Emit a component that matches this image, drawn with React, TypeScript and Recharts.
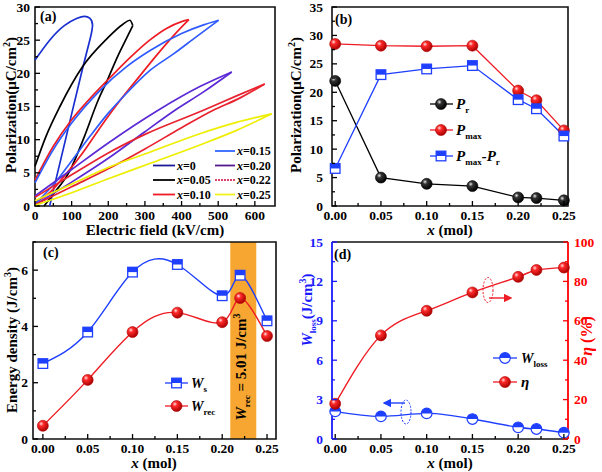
import React from 'react'
import { LineChart, Line, XAxis, YAxis, ReferenceArea, ReferenceLine } from 'recharts'

// ---- (a) P-E loops, points are [E (kV/cm), P (µC/cm²)]
const loopX000 = [[0, 22], [40, 25], [80, 27.2], [115, 28.3], [135, 28.6], [150, 28.3], [157, 27.3], [150, 25.1], [131, 21], [104, 14.8], [72, 7.4], [40, 0]]
const loopX005Rise = [[25, 0], [50, 1.8], [95, 5.3], [135, 10.5], [172, 15.9], [196, 18.8], [226, 22.6], [250, 25.3], [267, 27.2]]
const loopX005Fall = [[0, 6], [30, 10.5], [68, 15], [131, 21.1], [196, 25.2], [240, 27.4], [259, 28], [267, 27.2]]
const loopX010Rise = [[0, 0.5], [40, 2], [80, 4.5], [130, 8], [180, 12], [232, 15.9], [280, 19.2], [330, 22.6], [380, 25.8], [420, 28.1]]
const loopX010Fall = [[0, 3.9], [50, 9], [100, 13], [145, 15.9], [204, 19.3], [260, 22.4], [313, 25], [360, 26.8], [400, 27.8], [420, 28.1]]
const loopX015Rise = [[0, 0.3], [50, 3.2], [100, 6.8], [150, 10.5], [200, 14], [250, 17], [313, 20.4], [380, 23], [440, 25.5], [501, 28]]
const loopX015Fall = [[0, 3.5], [50, 8.5], [100, 12.5], [177, 17.4], [250, 21], [313, 23.4], [400, 26], [460, 27.3], [501, 28]]
const loopX020Rise = [[0, 0.2], [100, 3.6], [200, 7.2], [300, 11.2], [381, 14.4], [460, 17.2], [537, 20.2]]
const loopX020Fall = [[0, 1.5], [100, 5.5], [200, 9.5], [335, 14.4], [450, 18], [537, 20.2]]
const loopX022Rise = [[0, 0.2], [100, 2.9], [200, 5.6], [300, 8.6], [400, 11.8], [485, 14.4], [560, 16.3], [627, 18.4]]
const loopX022Fall = [[0, 1.3], [100, 4.7], [200, 8], [300, 10.8], [458, 14.4], [550, 16.6], [627, 18.4]]
const loopX025Rise = [[0, 0.1], [100, 2], [200, 4.1], [313, 6.4], [450, 9.2], [550, 11.4], [646, 13.9]]
const loopX025Fall = [[0, 0.8], [100, 3.3], [200, 5.8], [313, 8.1], [450, 10.9], [550, 12.6], [646, 13.9]]

const fieldTicks = [0, 50, 100, 150, 200, 250, 300, 350, 400, 450, 500, 550, 600]
const fieldMajors = [0, 100, 200, 300, 400, 500, 600]
const polTicksA = [0, 2.5, 5, 7.5, 10, 12.5, 15, 17.5, 20, 22.5, 25, 27.5, 30]
const polMajorsA = [0, 5, 10, 15, 20, 25, 30]

// ---- (b)-(d) composition series
const composition = [0, 0.05, 0.1, 0.15, 0.2, 0.22, 0.25]
const pr = [22.0, 5.0, 3.9, 3.5, 1.5, 1.4, 1.0]
const pmax = [28.5, 28.2, 28.1, 28.2, 20.3, 18.6, 13.3]
const pmaxMinusPr = [6.6, 23.1, 24.1, 24.7, 18.7, 17.1, 12.3]
const ws = [2.68, 3.8, 5.93, 6.2, 5.09, 5.82, 4.2]
const wrec = [0.47, 2.1, 3.8, 4.49, 4.15, 5.01, 3.66]
const wloss = [2.1, 1.72, 1.95, 1.52, 0.89, 0.76, 0.48]
const eta = [17.9, 52.6, 65.1, 74.4, 82.3, 85.8, 87.0]

const molTicks = [0, 0.025, 0.05, 0.075, 0.1, 0.125, 0.15, 0.175, 0.2, 0.225, 0.25]
const molMajors = [0, 0.05, 0.1, 0.15, 0.2, 0.25]
const polTicksB = [0, 2.5, 5, 7.5, 10, 12.5, 15, 17.5, 20, 22.5, 25, 27.5, 30, 32.5, 35]
const polMajorsB = [0, 5, 10, 15, 20, 25, 30, 35]
const energyTicks = [0, 1, 2, 3, 4, 5, 6, 7]
const energyMajors = [0, 2, 4, 6]
const lossTicks = [0, 1.5, 3, 4.5, 6, 7.5, 9, 10.5, 12, 13.5, 15]
const lossMajors = [0, 3, 6, 9, 12, 15]
const etaTicks = [0, 10, 20, 30, 40, 50, 60, 70, 80, 90, 100]
const etaMajors = [0, 20, 40, 60, 80, 100]

const SERIF = '"Liberation Serif", "Times New Roman", serif'
const BLUE = '#1f3fff'
const RED = '#ee1c24'

const toPts = (a: number[][]) => a.map(([e, p]) => ({ e, p }))

const loops = [
  { id: 'x000', color: '#1a2fd0', parts: [loopX000], curve: 'natural' },
  { id: 'x005', color: '#000000', parts: [loopX005Rise, loopX005Fall], curve: 'monotone' },
  { id: 'x010', color: RED, parts: [loopX010Rise, loopX010Fall], curve: 'monotone' },
  { id: 'x015', color: '#2f5bff', parts: [loopX015Rise, loopX015Fall], curve: 'monotone' },
  { id: 'x020', color: '#5b2ad6', parts: [loopX020Rise, loopX020Fall], curve: 'monotone' },
  { id: 'x022', color: '#e8232f', parts: [loopX022Rise, loopX022Fall], curve: 'monotone' },
  { id: 'x025', color: '#eeee00', parts: [loopX025Rise, loopX025Fall], curve: 'monotone' },
]

const rows = composition.map((x, i) => ({
  x,
  pr: pr[i],
  pmax: pmax[i],
  pdiff: pmaxMinusPr[i],
  ws: ws[i],
  wrec: wrec[i],
  wloss: wloss[i],
  eta: eta[i],
}))

// ticks point inward, labels only on majors
function tickMaker(side: 'bottom' | 'left' | 'right', majors: number[], fmt: (v: number) => string, gap: number, color = '#000') {
  return (props: any) => {
    const { x, y, payload } = props
    const v = payload.value
    const major = majors.some((m) => Math.abs(m - v) < 1e-6)
    const len = major ? 5 : 3
    const font = { fontFamily: SERIF, fontWeight: 'bold' as const, fontSize: 13.5, fill: color }
    if (side === 'bottom') {
      return (
        <g>
          <line x1={x} x2={x} y1={y} y2={y - len} stroke={color} strokeWidth={1.3} />
          {major && <text x={x} y={y + gap} textAnchor="middle" {...font}>{fmt(v)}</text>}
        </g>
      )
    }
    const dir = side === 'left' ? 1 : -1
    return (
      <g>
        <line x1={x} x2={x + dir * len} y1={y} y2={y} stroke={color} strokeWidth={1.3} />
        {major && (
          <text x={x - dir * gap} y={y + 4.5} textAnchor={side === 'left' ? 'end' : 'start'} {...font}>
            {fmt(v)}
          </text>
        )}
      </g>
    )
  }
}

const fmt2 = (v: number) => v.toFixed(2)
const fmt0 = (v: number) => String(v)

function Ball({ cx, cy, kind }: { cx: number; cy: number; kind: 'red' | 'black' }) {
  return <circle cx={cx} cy={cy} r={5.5} fill={`url(#ball-${kind})`} stroke={kind === 'red' ? '#b00000' : '#000'} strokeWidth={0.6} />
}

function HalfSquare({ cx, cy, color }: { cx: number; cy: number; color: string }) {
  return (
    <g>
      <rect x={cx - 4.8} y={cy - 4.8} width={9.6} height={9.6} fill="#fff" stroke={color} strokeWidth={1.3} />
      <rect x={cx - 4.8} y={cy - 4.8} width={9.6} height={4.8} fill={color} />
    </g>
  )
}

function HalfCircle({ cx, cy, color }: { cx: number; cy: number; color: string }) {
  const r = 5.3
  return (
    <g>
      <circle cx={cx} cy={cy} r={r} fill="#fff" stroke={color} strokeWidth={1.2} />
      <path d={`M${cx - r},${cy} A${r},${r} 0 0 1 ${cx + r},${cy} Z`} fill={color} />
    </g>
  )
}

const redDot = (p: any) => <Ball key={`r${p.index}`} cx={p.cx} cy={p.cy} kind="red" />
const blackDot = (p: any) => <Ball key={`k${p.index}`} cx={p.cx} cy={p.cy} kind="black" />
const squareDot = (p: any) => <HalfSquare key={`s${p.index}`} cx={p.cx} cy={p.cy} color={BLUE} />
const halfDot = (p: any) => <HalfCircle key={`h${p.index}`} cx={p.cx} cy={p.cy} color={BLUE} />

const MOL_DOMAIN: [number, number] = [-0.0035, 0.2545]

function PanelA() {
  return (
    <LineChart width={285} height={240} margin={{ top: 7, right: 10, left: 0, bottom: 0 }}>
      <XAxis type="number" dataKey="e" domain={[0, 655]} ticks={fieldTicks} interval={0} height={34}
        axisLine={false} tickLine={false} tickSize={0} tickMargin={0} tick={tickMaker('bottom', fieldMajors, fmt0, 14)} />
      <YAxis type="number" domain={[0, 30]} ticks={polTicksA} interval={0} width={35}
        axisLine={false} tickLine={false} tickSize={0} tickMargin={0} tick={tickMaker('left', polMajorsA, fmt0, 5)} />
      <ReferenceArea x1={0} x2={655} y1={0} y2={30} fill="none" stroke="#111" strokeWidth={1.6} />
      {loops.map((l) =>
        l.parts.map((part, j) => (
          <Line key={`${l.id}-${j}`} data={toPts(part)} dataKey="p" type={l.curve as any} stroke={l.color}
            strokeWidth={1.7} dot={false} activeDot={false} isAnimationActive={false} />
        ))
      )}
    </LineChart>
  )
}

function PanelB() {
  return (
    <LineChart width={302} height={240} data={rows} margin={{ top: 7, right: 34, left: 0, bottom: 0 }}>
      <XAxis type="number" dataKey="x" domain={MOL_DOMAIN} ticks={molTicks} interval={0} height={34}
        axisLine={false} tickLine={false} tickSize={0} tickMargin={0} tick={tickMaker('bottom', molMajors, fmt2, 14)} />
      <YAxis type="number" domain={[0, 35]} ticks={polTicksB} interval={0} width={32}
        axisLine={false} tickLine={false} tickSize={0} tickMargin={0} tick={tickMaker('left', polMajorsB, fmt0, 9)} />
      <ReferenceArea x1={MOL_DOMAIN[0]} x2={MOL_DOMAIN[1]} y1={0} y2={35} fill="none" stroke="#111" strokeWidth={1.6} />
      <Line dataKey="pr" type="linear" stroke="#000" strokeWidth={1.3} dot={blackDot} activeDot={false} isAnimationActive={false} />
      <Line dataKey="pmax" type="linear" stroke={RED} strokeWidth={1.3} dot={redDot} activeDot={false} isAnimationActive={false} />
      <Line dataKey="pdiff" type="linear" stroke={BLUE} strokeWidth={1.3} dot={squareDot} activeDot={false} isAnimationActive={false} />
    </LineChart>
  )
}

function PanelC() {
  return (
    <LineChart width={290} height={242} data={rows} margin={{ top: 12, right: 14, left: 0, bottom: 0 }}>
      <XAxis type="number" dataKey="x" domain={[-0.011, 0.26]} ticks={molTicks} interval={0} height={33}
        axisLine={false} tickLine={false} tickSize={0} tickMargin={0} tick={tickMaker('bottom', molMajors, fmt2, 14)} />
      <YAxis type="number" domain={[0, 7]} ticks={energyTicks} interval={0} width={33}
        axisLine={false} tickLine={false} tickSize={0} tickMargin={0} tick={tickMaker('left', energyMajors, fmt0, 5)} />
      <ReferenceArea x1={0.209} x2={0.238} y1={0} y2={7} fill="#f6a631" fillOpacity={1} stroke="none" />
      <ReferenceArea x1={-0.011} x2={0.26} y1={0} y2={7} fill="none" stroke="#111" strokeWidth={1.6} />
      <Line dataKey="ws" type="natural" stroke={BLUE} strokeWidth={1.4} dot={squareDot} activeDot={false} isAnimationActive={false} />
      <Line dataKey="wrec" type="natural" stroke={RED} strokeWidth={1.4} dot={redDot} activeDot={false} isAnimationActive={false} />
    </LineChart>
  )
}

function PanelD() {
  return (
    <LineChart width={302} height={242} data={rows} margin={{ top: 12, right: 0, left: 0, bottom: 0 }}>
      <XAxis type="number" dataKey="x" domain={MOL_DOMAIN} ticks={molTicks} interval={0} height={33}
        axisLine={{ stroke: '#111', strokeWidth: 1.6 }} tickLine={false} tickSize={0} tickMargin={0}
        tick={tickMaker('bottom', molMajors, fmt2, 14)} />
      <YAxis yAxisId="l" type="number" domain={[0, 15]} ticks={lossTicks} interval={0} width={32}
        axisLine={{ stroke: '#1a1aff', strokeWidth: 1.8 }} tickLine={false} tickSize={0} tickMargin={0}
        tick={tickMaker('left', lossMajors, fmt0, 9, '#1a1aff')} />
      <YAxis yAxisId="r" orientation="right" type="number" domain={[0, 100]} ticks={etaTicks} interval={0} width={34}
        axisLine={{ stroke: '#ff0000', strokeWidth: 1.8 }} tickLine={false} tickSize={0} tickMargin={0}
        tick={tickMaker('right', etaMajors, fmt0, 6, '#ff0000')} />
      <ReferenceLine yAxisId="l" y={15} stroke="#111" strokeWidth={1.6} />
      <Line yAxisId="l" dataKey="wloss" type="natural" stroke={BLUE} strokeWidth={1.4} dot={halfDot} activeDot={false} isAnimationActive={false} />
      <Line yAxisId="r" dataKey="eta" type="natural" stroke={RED} strokeWidth={1.4} dot={redDot} activeDot={false} isAnimationActive={false} />
    </LineChart>
  )
}

const txt = { fontFamily: SERIF, fontWeight: 'bold' as const }

function Sub({ children }: { children: React.ReactNode }) {
  return <tspan fontSize={9} fontStyle="normal" dy={4}>{children}</tspan>
}

function Overlay() {
  const legA1 = [
    { y: 165.5, label: '=0', color: '#1a1a99', dash: undefined },
    { y: 180, label: '=0.05', color: '#000', dash: undefined },
    { y: 194.5, label: '=0.10', color: '#ee1c24', dash: undefined },
  ]
  const legA2 = [
    { y: 151, label: '=0.15', color: '#3366ff', dash: undefined },
    { y: 165.5, label: '=0.20', color: '#551a8b', dash: undefined },
    { y: 180, label: '=0.22', color: '#d9436e', dash: '2 1' },
    { y: 194.5, label: '=0.25', color: '#f2f21a', dash: undefined },
  ]
  return (
    <svg width={602} height={472} style={{ position: 'absolute', left: 0, top: 0, pointerEvents: 'none' }}>
      <defs>
        <radialGradient id="ball-red" cx="0.35" cy="0.32" r="0.7">
          <stop offset="0" stopColor="#ffe0e0" />
          <stop offset="0.3" stopColor="#ff2a2a" />
          <stop offset="1" stopColor="#a80000" />
        </radialGradient>
        <radialGradient id="ball-black" cx="0.35" cy="0.32" r="0.7">
          <stop offset="0" stopColor="#e8e8e8" />
          <stop offset="0.3" stopColor="#333" />
          <stop offset="1" stopColor="#000" />
        </radialGradient>
        <marker id="arrR" markerWidth="6" markerHeight="6" refX="5" refY="3" orient="auto">
          <path d="M0,0 L6,3 L0,6 Z" fill="#ee1c24" />
        </marker>
        <marker id="arrB" markerWidth="6" markerHeight="6" refX="5" refY="3" orient="auto">
          <path d="M0,0 L6,3 L0,6 Z" fill={BLUE} />
        </marker>
      </defs>

      {/* panel letters */}
      <text x={40} y={21} fontSize={14} {...txt}>(a)</text>
      <text x={335} y={24} fontSize={14} {...txt}>(b)</text>
      <text x={43} y={257} fontSize={14} {...txt}>(c)</text>
      <text x={334} y={259} fontSize={14} {...txt}>(d)</text>

      {/* (a) titles */}
      <text x={155} y={235} fontSize={15} textAnchor="middle" {...txt}>Electric field (kV/cm)</text>
      <text transform="translate(16,105) rotate(-90)" fontSize={15} textAnchor="middle" {...txt}>
        Polarization(μC/cm<tspan dy={-6} fontSize={10}>2</tspan><tspan dy={6}>)</tspan>
      </text>
      {legA1.map((r) => (
        <g key={r.label}>
          <line x1={153} x2={175} y1={r.y} y2={r.y} stroke={r.color} strokeWidth={1.8} strokeDasharray={r.dash} />
          <text x={177} y={r.y + 4} fontSize={12} {...txt}><tspan fontStyle="italic">x</tspan>{r.label}</text>
        </g>
      ))}
      {legA2.map((r) => (
        <g key={r.label}>
          <line x1={215} x2={235} y1={r.y} y2={r.y} stroke={r.color} strokeWidth={1.8} strokeDasharray={r.dash} />
          <text x={237} y={r.y + 4} fontSize={12} {...txt}><tspan fontStyle="italic">x</tspan>{r.label}</text>
        </g>
      ))}

      {/* (b) titles + legend */}
      <text x={450} y={235} fontSize={15} textAnchor="middle" {...txt}><tspan fontStyle="italic">x</tspan> (mol)</text>
      <text transform="translate(301,105) rotate(-90)" fontSize={15} textAnchor="middle" {...txt}>
        Polarization(μC/cm<tspan dy={-6} fontSize={10}>2</tspan><tspan dy={6}>)</tspan>
      </text>
      <line x1={430} x2={453} y1={104} y2={104} stroke="#000" strokeWidth={1.3} />
      <Ball cx={441} cy={104} kind="black" />
      <text x={456} y={109} fontSize={15} fontStyle="italic" {...txt}>P<Sub>r</Sub></text>
      <line x1={430} x2={453} y1={130} y2={130} stroke={RED} strokeWidth={1.3} />
      <Ball cx={441} cy={130} kind="red" />
      <text x={456} y={135} fontSize={15} fontStyle="italic" {...txt}>P<Sub>max</Sub></text>
      <line x1={430} x2={453} y1={156} y2={156} stroke={BLUE} strokeWidth={1.3} />
      <HalfSquare cx={441} cy={156} color={BLUE} />
      <text x={456} y={161} fontSize={15} fontStyle="italic" {...txt}>
        P<Sub>max</Sub><tspan dy={-4}>-P</tspan><Sub>r</Sub>
      </text>

      {/* (c) titles + legend + band text */}
      <text x={154} y={468} fontSize={15} textAnchor="middle" {...txt}><tspan fontStyle="italic">x</tspan> (mol)</text>
      <text transform="translate(17,340) rotate(-90)" fontSize={15} textAnchor="middle" {...txt}>
        Energy density (J/cm<tspan dy={-6} fontSize={10}>3</tspan><tspan dy={6}>)</tspan>
      </text>
      <line x1={165} x2={188} y1={383} y2={383} stroke={BLUE} strokeWidth={1.3} />
      <HalfSquare cx={176.5} cy={383} color={BLUE} />
      <text x={191} y={388} fontSize={14} fontStyle="italic" {...txt}>W<Sub>s</Sub></text>
      <line x1={165} x2={188} y1={406} y2={406} stroke={RED} strokeWidth={1.3} />
      <Ball cx={176.5} cy={406} kind="red" />
      <text x={191} y={411} fontSize={14} fontStyle="italic" {...txt}>W<Sub>rec</Sub></text>
      <text transform="translate(246,367) rotate(-90)" fontSize={15} textAnchor="middle" {...txt}>
        <tspan fontStyle="italic">W</tspan><tspan fontSize={9} dy={4}>rec</tspan><tspan dy={-4}> = 5.01 J/cm</tspan>
        <tspan dy={-6} fontSize={10}>3</tspan>
      </text>

      {/* (d) titles + legend + arrows */}
      <text x={450} y={468} fontSize={15} textAnchor="middle" {...txt}><tspan fontStyle="italic">x</tspan> (mol)</text>
      <text transform="translate(312,310) rotate(-90)" fontSize={15} textAnchor="middle" fill="#1a1aff" {...txt}>
        <tspan fontStyle="italic">W</tspan><tspan fontSize={9} dy={4}>loss</tspan><tspan dy={-4}>(J/cm</tspan>
        <tspan dy={-6} fontSize={10}>3</tspan><tspan dy={6}>)</tspan>
      </text>
      <text transform="translate(592,336) rotate(-90)" fontSize={16} textAnchor="middle" fill="#ff0000" {...txt}>
        <tspan fontStyle="italic">η</tspan> (%)
      </text>
      <line x1={493} x2={517} y1={358} y2={358} stroke={BLUE} strokeWidth={1.3} />
      <HalfCircle cx={505} cy={358} color={BLUE} />
      <text x={521} y={363} fontSize={14} fontStyle="italic" {...txt}>W<Sub>loss</Sub></text>
      <line x1={493} x2={517} y1={382} y2={382} stroke={RED} strokeWidth={1.3} />
      <Ball cx={505} cy={382} kind="red" />
      <text x={521} y={387} fontSize={15} fontStyle="italic" {...txt}>η</text>
      <ellipse cx={488} cy={290} rx={5} ry={12.5} fill="none" stroke={RED} strokeWidth={1} strokeDasharray="2 1.5" />
      <line x1={489} x2={511} y1={298} y2={298} stroke={RED} strokeWidth={1.4} markerEnd="url(#arrR)" />
      <ellipse cx={406} cy={412} rx={5} ry={12} fill="none" stroke={BLUE} strokeWidth={1} strokeDasharray="2 1.5" />
      <line x1={405} x2={384} y1={403} y2={403} stroke={BLUE} strokeWidth={1.4} markerEnd="url(#arrB)" />
    </svg>
  )
}

export default function App() {
  return (
    <div style={{ position: 'absolute', left: 0, top: 0, width: 602, height: 472, background: '#fff', overflow: 'hidden' }}>
      <div style={{ position: 'absolute', left: 0, top: 0 }}><PanelA /></div>
      <div style={{ position: 'absolute', left: 300, top: 0 }}><PanelB /></div>
      <div style={{ position: 'absolute', left: 0, top: 230 }}><PanelC /></div>
      <div style={{ position: 'absolute', left: 300, top: 230 }}><PanelD /></div>
      <Overlay />
    </div>
  )
}
